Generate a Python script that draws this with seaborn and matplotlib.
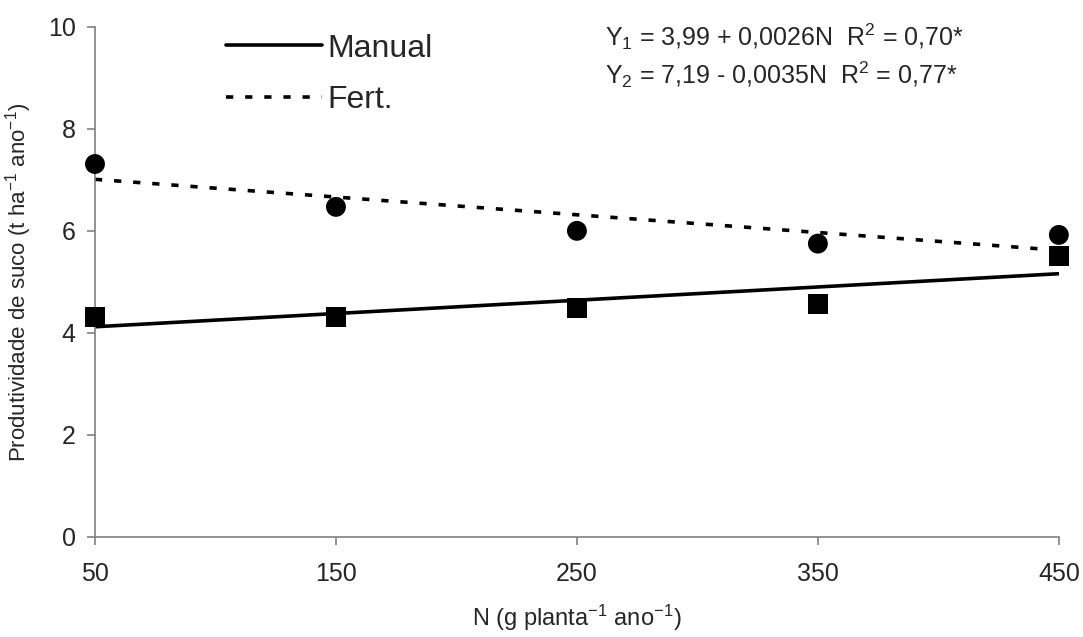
import numpy as np
import pandas as pd
import seaborn as sns
from matplotlib import pyplot as plt
from matplotlib.lines import Line2D

# values
doses = [50, 150, 250, 350, 450]
manual = [4.31, 4.32, 4.49, 4.57, 5.51]
fert = [7.31, 6.47, 6.00, 5.75, 5.92]

# fitted lines (ends of the regression lines as drawn)
fit_x = [50, 450]
manual_fit = [4.12, 5.16]
fert_fit = [7.01, 5.62]

eq1 = "Y$_1$ = 3,99 + 0,0026N  R$^2$ = 0,70*"
eq2 = "Y$_2$ = 7,19 - 0,0035N  R$^2$ = 0,77*"

sns.set_style("ticks")
plt.rcParams['font.family'] = ['Liberation Sans', 'DejaVu Sans']
plt.rcParams['mathtext.fontset'] = 'custom'
plt.rcParams['mathtext.rm'] = 'Liberation Sans'
plt.rcParams['mathtext.it'] = 'Liberation Sans:italic'

df_pts = pd.DataFrame({'N': doses * 2,
                       'y': manual + fert,
                       'grupo': ['Manual'] * 5 + ['Fert.'] * 5})

fig = plt.figure(figsize=(10.83, 6.37), dpi=100)
ax = fig.add_axes([0.0877, 0.157, 0.890, 0.801])

dash = (0, (2, 3.3))
sns.lineplot(x=fit_x, y=manual_fit, ax=ax, color='black', lw=2.6)
ax.plot(fit_x, fert_fit, color='black', lw=2.6, linestyle=dash)

sns.scatterplot(data=df_pts, x='N', y='y', style='grupo',
                markers={'Manual': 's', 'Fert.': 'o'}, color='black',
                s=205, edgecolor='none', ax=ax, legend=False, zorder=3,
                clip_on=False)

ax.set_xlim(50, 450)
ax.set_ylim(0, 10)
ax.set_xticks(doses)
ax.set_yticks([0, 2, 4, 6, 8, 10])
ax.tick_params(labelsize=18, length=6, width=1.2, color='#808080')
ax.tick_params(axis='x', pad=12)
ax.tick_params(axis='y', pad=8)
for side in ['left', 'bottom']:
    ax.spines[side].set_color('#808080')
    ax.spines[side].set_linewidth(1.2)
sns.despine(ax=ax)

ax.set_xlabel("N (g planta$^{-1}$ ano$^{-1}$)", fontsize=17, labelpad=12)
ax.set_ylabel("Produtividade de suco (t ha$^{-1}$ ano$^{-1}$)", fontsize=16, labelpad=10)

handles = [Line2D([], [], color='black', lw=2.6),
           Line2D([], [], color='black', lw=2.6, linestyle=dash)]
ax.legend(handles, ['Manual', 'Fert.'], loc='upper left',
          bbox_to_anchor=(0.106, 1.043), frameon=False, fontsize=23,
          handlelength=3.0, handletextpad=0.19, labelspacing=0.68)

ax.text(0.529, 0.98, eq1, transform=ax.transAxes, fontsize=18, va='center')
ax.text(0.529, 0.906, eq2, transform=ax.transAxes, fontsize=18, va='center')

fig.savefig('out.png', dpi=100)
